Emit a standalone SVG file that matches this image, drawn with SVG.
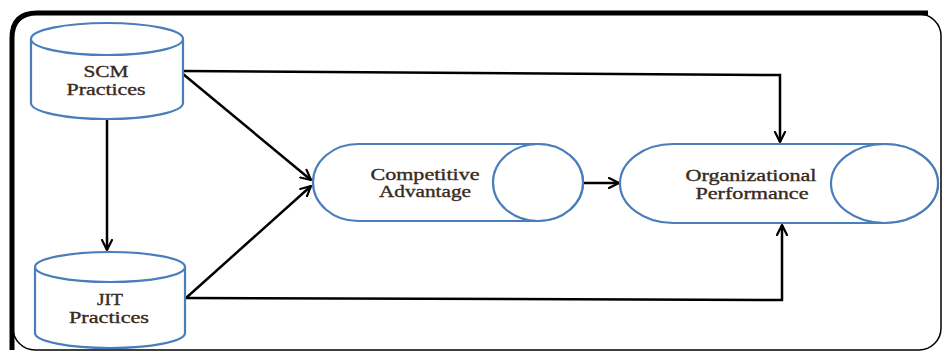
<svg xmlns="http://www.w3.org/2000/svg" width="944" height="353" viewBox="0 0 944 353">
  <defs>
    <marker id="arrow" viewBox="0 0 12 12" refX="11" refY="6" markerWidth="12" markerHeight="12" markerUnits="userSpaceOnUse" orient="auto">
      <path d="M1 1 L11 6 L1 11" fill="none" stroke="#000" stroke-width="2.2" stroke-linecap="round" stroke-linejoin="round"/>
    </marker>
  </defs>
  <style>
    .shape { fill: #fff; stroke: #4a7ebb; stroke-width: 2.2; }
    .link { fill: none; stroke: #000; stroke-width: 2.5; marker-end: url(#arrow); }
    .label { font-family: "Liberation Serif", "Times New Roman", serif; font-size: 16px; fill: #3a2a1c; stroke: #3a2a1c; stroke-width: 0.35; text-anchor: middle; }
  </style>
  <rect width="944" height="353" fill="#fff"/>

  <!-- frame: thin rounded box with a heavy top/left edge -->
  <rect x="13" y="14" width="928" height="336" rx="22" fill="none" stroke="#000" stroke-width="1.5"/>
  <path d="M12 350 L12 38 Q12 13 37 13 L928 13" fill="none" stroke="#000" stroke-width="5"/>

  <!-- connectors -->
  <g id="connectors">
    <path class="link" d="M107 120 L107 250"/>
    <path class="link" d="M183 71 L780 75 L780 142"/>
    <path class="link" d="M183 74 L311 180"/>
    <path class="link" d="M186 298 L311 186"/>
    <path class="link" d="M186 298 L782 300 L782 225"/>
    <path class="link" d="M583 183 L619 183"/>
  </g>

  <!-- SCM Practices -->
  <g id="scm">
    <path class="shape" d="M31 39 L31 103 A76 16 0 0 0 183 103 L183 39"/>
    <ellipse class="shape" cx="107" cy="39" rx="76" ry="16"/>
    <text class="label" x="106" y="77" textLength="45" lengthAdjust="spacingAndGlyphs">SCM</text>
    <text class="label" x="106" y="95" textLength="79" lengthAdjust="spacingAndGlyphs">Practices</text>
  </g>

  <!-- JIT Practices -->
  <g id="jit">
    <path class="shape" d="M35 267 L35 333 A75 15 0 0 0 185 333 L185 267"/>
    <ellipse class="shape" cx="110" cy="267" rx="75" ry="15"/>
    <text class="label" x="110" y="305" textLength="26" lengthAdjust="spacingAndGlyphs">JIT</text>
    <text class="label" x="109" y="323" textLength="80" lengthAdjust="spacingAndGlyphs">Practices</text>
  </g>

  <!-- Competitive Advantage -->
  <g id="competitive">
    <path class="shape" d="M358 144 L538 144 A45 38.5 0 0 1 538 221 L358 221 A45 38.5 0 0 1 358 144 Z"/>
    <ellipse class="shape" cx="538" cy="182.5" rx="45" ry="38.5"/>
    <text class="label" x="425" y="180" textLength="109" lengthAdjust="spacingAndGlyphs">Competitive</text>
    <text class="label" x="425" y="197" textLength="92" lengthAdjust="spacingAndGlyphs">Advantage</text>
  </g>

  <!-- Organizational Performance -->
  <g id="performance">
    <path class="shape" d="M673 144 L884.5 144 A53.5 39.5 0 0 1 884.5 223 L673 223 A53 39.5 0 0 1 673 144 Z"/>
    <ellipse class="shape" cx="884.5" cy="183.5" rx="53.5" ry="39.5"/>
    <text class="label" x="751" y="181" textLength="131" lengthAdjust="spacingAndGlyphs">Organizational</text>
    <text class="label" x="752" y="199" textLength="113" lengthAdjust="spacingAndGlyphs">Performance</text>
  </g>
</svg>
